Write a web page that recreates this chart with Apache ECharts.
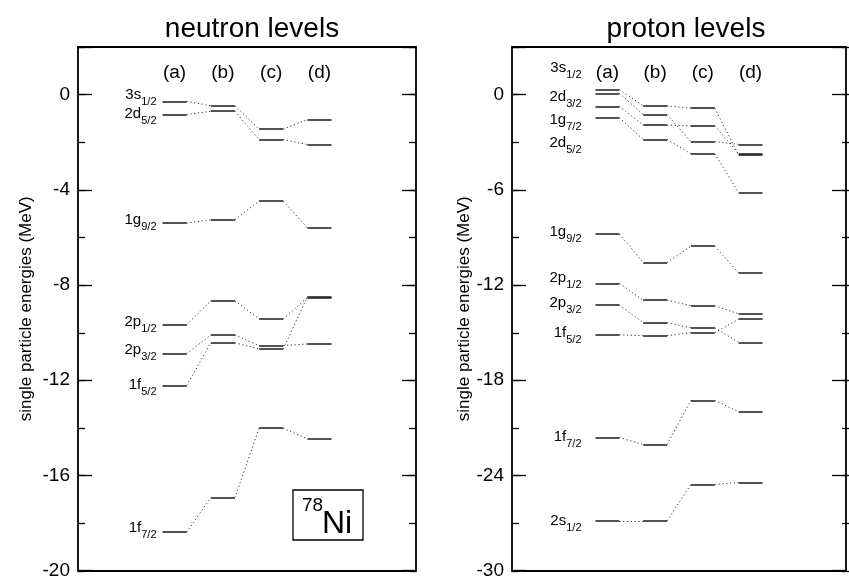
<!DOCTYPE html>
<html><head><meta charset="utf-8">
<script src="https://cdn.jsdelivr.net/npm/echarts@6/dist/echarts.min.js"></script>
<style>html,body{margin:0;padding:0;background:#fff}#c{width:849px;height:580px}</style>
</head><body><div id="c"></div>
<script>
// ---- data ----
const columns = ['(a)', '(b)', '(c)', '(d)'];
const columnX = [2, 3, 4, 5];

const neutronOrb = ['3s', '2d', '1g', '2p', '2p', '1f', '1f'];
const neutronJ   = ['1/2', '5/2', '9/2', '1/2', '3/2', '5/2', '7/2'];
const neutronA = [-0.28, -0.84, -5.40, -9.67, -10.89, -12.23, -18.39];
const neutronB = [-0.47, -0.70, -5.26, -8.67, -10.10, -10.43, -16.94];
const neutronC = [-1.45, -1.89, -4.47, -9.43, -10.55, -10.69, -14.02];
const neutronD = [-1.05, -2.10, -5.60, -8.53, -10.48, -8.50, -14.47];
const neutronLabelE = [-0.10, -0.93, -5.39, -9.65, -10.85, -12.32, -18.33];
const neutronTicks = [-20, -16, -12, -8, -4, 0];

const protonOrb = ['3s', '2d', '1g', '2d', '1g', '2p', '2p', '1f', '1f', '2s'];
const protonJ   = ['1/2', '3/2', '7/2', '5/2', '9/2', '1/2', '3/2', '5/2', '7/2', '1/2'];
const protonA = [0.31, 0.08, -0.74, -1.45, -8.79, -11.91, -13.27, -15.14, -21.62, -26.87];
const protonB = [-0.71, -1.26, -1.93, -2.83, -10.58, -12.96, -14.38, -15.20, -22.06, -26.87];
const protonC = [-0.86, -2.97, -1.97, -3.73, -9.56, -13.31, -14.70, -15.01, -19.27, -24.57];
const protonD = [-3.82, -3.14, -3.73, -6.18, -11.24, -13.82, -15.62, -14.15, -20.00, -24.45];
const protonLabelE = [1.50, -0.33, -1.78, -3.22, -8.80, -11.71, -13.28, -15.17, -21.71, -27.04];
const protonTicks = [-30, -24, -18, -12, -6, 0];

// ---- style ----
const FONT = '"Liberation Sans", Arial, Helvetica, sans-serif';
const HW = 0.25;
const GRID_L = {left: 78, top: 47, width: 338, height: 524};
const GRID_R = {left: 512, top: 47, width: 340, height: 524};
const frameLine = {show: true, onZero: false, lineStyle: {color: '#000', width: 1.8}};

function levelSeries(cols, xi, yi) {
  const solid = [], dotted = [];
  const n = cols[0].length;
  for (let i = 0; i < n; i++) {
    for (let k = 0; k < cols.length; k++) {
      const v = cols[k][i];
      solid.push({coords: [[columnX[k] - HW, v], [columnX[k] + HW, v]]});
      if (k < cols.length - 1) {
        dotted.push({coords: [[columnX[k] + HW, v], [columnX[k + 1] - HW, cols[k + 1][i]]]});
      }
    }
  }
  return [
    {type: 'lines', coordinateSystem: 'cartesian2d', xAxisIndex: xi, yAxisIndex: yi, polyline: false,
     silent: true, z: 2, data: dotted,
     lineStyle: {color: '#333', width: 1, type: [1.2, 2.6], opacity: 1}},
    {type: 'lines', coordinateSystem: 'cartesian2d', xAxisIndex: xi, yAxisIndex: yi, polyline: false,
     silent: true, z: 3, data: solid,
     lineStyle: {color: '#1a1a1a', width: 1.5, type: 'solid', opacity: 1}}
  ];
}

function labelSeries(orb, J, labelE, xi, yi, dist) {
  return {
    type: 'scatter', xAxisIndex: xi, yAxisIndex: yi, symbolSize: 0, silent: true, z: 4,
    data: labelE.map((e, i) => [columnX[0] - HW, e, i]),
    label: {
      show: true, position: 'left', distance: dist, color: '#000', opacity: 1,
      formatter: p => '{m|' + orb[p.data[2]] + '}{s|' + J[p.data[2]] + '}',
      rich: {
        m: {fontSize: 15, fontFamily: FONT, color: '#000', verticalAlign: 'top'},
        s: {fontSize: 11, fontFamily: FONT, color: '#000', verticalAlign: 'top', padding: [9, 0, 0, 0]}
      }
    }
  };
}

function majorY(grid, ticks, max, pos, withLabels) {
  return {
    type: 'value', gridIndex: grid, position: pos,
    min: ticks[0], max: max, interval: ticks[1] - ticks[0],
    axisLine: frameLine,
    axisTick: {show: true, inside: true, length: 14, lineStyle: {color: '#000', width: 1.3}},
    axisLabel: withLabels ? {show: true, fontSize: 19, fontFamily: FONT, color: '#000', margin: 8,
      formatter: v => ticks.includes(v) ? String(v) : ''} : {show: false},
    splitLine: {show: false},
    name: withLabels ? 'single particle energies (MeV)' : '',
    nameLocation: 'middle', nameGap: withLabels ? (grid === 0 ? 43 : 37) : 0,
    nameTextStyle: {fontSize: 17, fontFamily: FONT, color: '#000'}
  };
}

function minorY(grid, ticks, max, pos) {
  return {
    type: 'value', gridIndex: grid, position: pos,
    min: ticks[0], max: max, interval: (ticks[1] - ticks[0]) / 2,
    axisLine: {show: false, onZero: false},
    axisTick: {show: true, inside: true, length: 7, lineStyle: {color: '#000', width: 1.3}},
    axisLabel: {show: false}, splitLine: {show: false}
  };
}

function xAxes(grid) {
  return [
    {type: 'value', gridIndex: grid, position: 'bottom', min: 0, max: 7, interval: 1,
     axisLine: frameLine, axisTick: {show: false}, axisLabel: {show: false}, splitLine: {show: false}},
    {type: 'value', gridIndex: grid, position: 'top', min: 0, max: 7, interval: 1,
     axisLine: frameLine, axisTick: {show: false}, splitLine: {show: false},
     axisLabel: {show: true, inside: true, margin: 16, fontSize: 19, fontFamily: FONT, color: '#000',
       formatter: v => { const k = columnX.indexOf(v); return k >= 0 ? columns[k] : ''; }}}
  ];
}

const chart = echarts.init(document.getElementById('c'), null, {renderer: 'canvas'});
chart.setOption({
  animation: false,
  backgroundColor: '#fff',
  title: [
    {text: 'neutron levels', left: 247, top: 10, textAlign: 'center',
     textStyle: {fontSize: 28, fontWeight: 'normal', fontFamily: FONT, color: '#000'}},
    {text: 'proton levels', left: 681, top: 10, textAlign: 'center',
     textStyle: {fontSize: 28, fontWeight: 'normal', fontFamily: FONT, color: '#000'}}
  ],
  grid: [GRID_L, GRID_R, GRID_L, GRID_R],
  xAxis: [
    ...xAxes(0), ...xAxes(1),
    {type: 'value', gridIndex: 2, min: 0, max: 7, show: false},
    {type: 'value', gridIndex: 3, min: 0, max: 7, show: false}
  ],
  yAxis: [
    majorY(0, neutronTicks, 2, 'left', true),
    majorY(0, neutronTicks, 2, 'right', false),
    majorY(1, protonTicks, 3, 'left', true),
    majorY(1, protonTicks, 3, 'right', false),
    minorY(2, neutronTicks, 2, 'left'),
    minorY(2, neutronTicks, 2, 'right'),
    minorY(3, protonTicks, 3, 'left'),
    minorY(3, protonTicks, 3, 'right')
  ],
  graphic: [
    {type: 'rect', shape: {x: 293, y: 490, width: 70, height: 50},
     style: {fill: '#fff', stroke: '#000', lineWidth: 1.3}, z: 10},
    {type: 'text', x: 302, y: 496, z: 11,
     style: {text: '78', fontSize: 19, fontFamily: FONT, fill: '#000', verticalAlign: 'top'}},
    {type: 'text', x: 322, y: 508, z: 11,
     style: {text: 'Ni', fontSize: 32, fontFamily: FONT, fill: '#000', verticalAlign: 'top'}}
  ],
  series: [
    ...levelSeries([neutronA, neutronB, neutronC, neutronD], 0, 0),
    labelSeries(neutronOrb, neutronJ, neutronLabelE, 0, 0, 6),
    ...levelSeries([protonA, protonB, protonC, protonD], 2, 2),
    labelSeries(protonOrb, protonJ, protonLabelE, 2, 2, 14)
  ]
});
</script>
</body></html>
